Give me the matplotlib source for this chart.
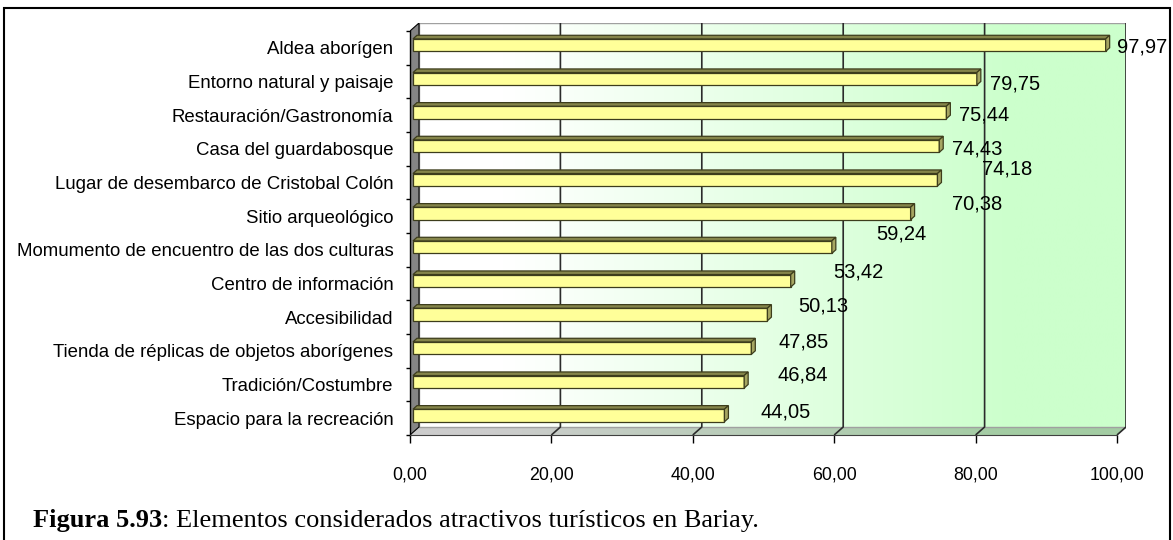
import numpy as np
import matplotlib
matplotlib.use('Agg')
import matplotlib.pyplot as plt
from matplotlib.patches import Polygon, Rectangle

plt.rcParams['font.family'] = ['Liberation Sans', 'DejaVu Sans']

# attractions, listed top to bottom
categories = ['Aldea aborígen',
              'Entorno natural y paisaje',
              'Restauración/Gastronomía',
              'Casa del guardabosque',
              'Lugar de desembarco de Cristobal Colón',
              'Sitio arqueológico',
              'Momumento de encuentro de las dos culturas',
              'Centro de información',
              'Accesibilidad',
              'Tienda de réplicas de objetos aborígenes',
              'Tradición/Costumbre',
              'Espacio para la recreación']
values = [97.97, 79.75, 75.44, 74.43, 74.18, 70.38, 59.24, 53.42, 50.13, 47.85, 46.84, 44.05]
xticks = [0, 20, 40, 60, 80, 100]
xtick_labels = ['0,00', '20,00', '40,00', '60,00', '80,00', '100,00']

# data label nudges (pixels right of bar end, pixels down from bar centre)
lab_dx = [7, 9, 9, 9, 41, 37, 40, 39, 27, 23, 29, 32]
lab_dy = [0, 3.5, 1, 1, -12.5, -11, -15, -10.6, -10, -8, -8.6, -5]

W, H = 1173, 540
fig = plt.figure(figsize=(W/100., H/100.), dpi=100)

# front plane of the 3d box, in pixels
x0, x1 = 410, 1117
y0, y1 = 435, 31
dxp, dyp = 9, 8
ax = fig.add_axes([x0/W, (H-y0)/H, (x1+dxp-x0)/W, (y0-(y1-dyp))/H])
n = len(categories)
sx = 100./(x1-x0)
sy = float(n)/(y0-y1)
DX, DY = dxp*sx, dyp*sy

# back wall: white -> pale green
t = np.clip((np.linspace(0, 1, 256) - 0.12) / 0.72, 0, 1)
white = np.array([1.0, 1.0, 1.0])
green = np.array([0.80, 1.0, 0.80])
grad = white + (green-white)*t[:, None]
ax.imshow(grad[None, :, :], extent=(DX, 100+DX, DY, n+DY), aspect='auto',
          zorder=0, interpolation='bilinear')
ax.add_patch(Rectangle((DX, DY), 100, n, fill=False, ec='#a0a0a0', lw=1, zorder=1))

# floor
floor_pts = [(0, 0), (100, 0), (100+DX, DY), (DX, DY)]
floor = Polygon(floor_pts, closed=True, transform=ax.transData)
im = ax.imshow((grad*0.80)[None, :, :], extent=(0, 100+DX, 0, DY), aspect='auto',
               zorder=0.5, interpolation='bilinear')
im.set_clip_path(floor)

# left side wall
ax.add_patch(Polygon([(0, 0), (DX, DY), (DX, n+DY), (0, n)], closed=True,
                     fc='#858585', ec='black', lw=0.8, zorder=1))

# grid lines on floor and back wall
for g in xticks[1:]:
    ax.plot([g, g+DX, g+DX], [0, DY, n+DY], color='#2b2b2b', lw=1.2, zorder=1.5,
            solid_capstyle='butt')

# bars: front face + top and end faces
ox, oy = 3*sx, 2.7*sy
bdx, bdy = 4*sx, 3.6*sy
h = 12.5*sy
yc = np.arange(n)[::-1] + 0.5 + oy
ax.barh(yc, values, left=ox, height=h, color='#ffff99', edgecolor='#3d3d1c',
        lw=0.9, zorder=3)
for v, y in zip(values, yc):
    yb, yt = y-h/2, y+h/2
    ax.add_patch(Polygon([(ox, yt), (ox+v, yt), (ox+v+bdx, yt+bdy), (ox+bdx, yt+bdy)],
                         closed=True, fc='#85854a', ec='#3d3d1c', lw=0.9, zorder=3))
    ax.add_patch(Polygon([(ox+v, yb), (ox+v, yt), (ox+v+bdx, yt+bdy), (ox+v+bdx, yb+bdy)],
                         closed=True, fc='#a6a662', ec='#3d3d1c', lw=0.9, zorder=3))

# value labels
for v, y, ddx, ddy in zip(values, yc, lab_dx, lab_dy):
    ax.annotate(('%.2f' % v).replace('.', ','), xy=(ox+v+bdx, y),
                xytext=(ddx, -(ddy+7.5)), textcoords='offset pixels',
                ha='left', va='baseline', fontsize=14.5, color='black',
                annotation_clip=False, zorder=5)

ax.set_xlim(0, 100+DX)
ax.set_ylim(0, n+DY)

for s in ['top', 'right']:
    ax.spines[s].set_visible(False)
ax.spines['left'].set_bounds(0, n)
ax.spines['bottom'].set_bounds(0, 100)
ax.spines['left'].set_linewidth(1)
ax.spines['bottom'].set_linewidth(0.8)
ax.spines['bottom'].set_color('#404040')

ax.set_xticks(xticks, labels=xtick_labels)
ax.tick_params(axis='x', length=5.5, width=1, pad=17, labelsize=12.8)
ax.set_yticks(np.arange(n+1), labels=[''] * (n+1))
ax.set_yticks(np.arange(n) + 0.5, labels=categories[::-1], minor=True)
ax.tick_params(axis='y', which='major', length=3, width=1, direction='out')
ax.tick_params(axis='y', which='minor', length=0, pad=12, labelsize=13.4)

# caption
t1 = fig.text(33/W, (H-527)/H, 'Figura 5.93', fontsize=19, fontweight='bold',
              family='Liberation Serif', va='baseline')
fig.canvas.draw()
bb = t1.get_window_extent()
fig.text(bb.x1/W, (H-527)/H, ': Elementos considerados atractivos turísticos en Bariay.',
         fontsize=19, family='Liberation Serif', va='baseline')

# outer frame
fig.patches.append(Rectangle((4/W, -0.1), (1170-4)/W, 1.1 - 8/H, transform=fig.transFigure,
                             fill=False, ec='black', lw=1.5))

plt.savefig('out.png', dpi=100)
